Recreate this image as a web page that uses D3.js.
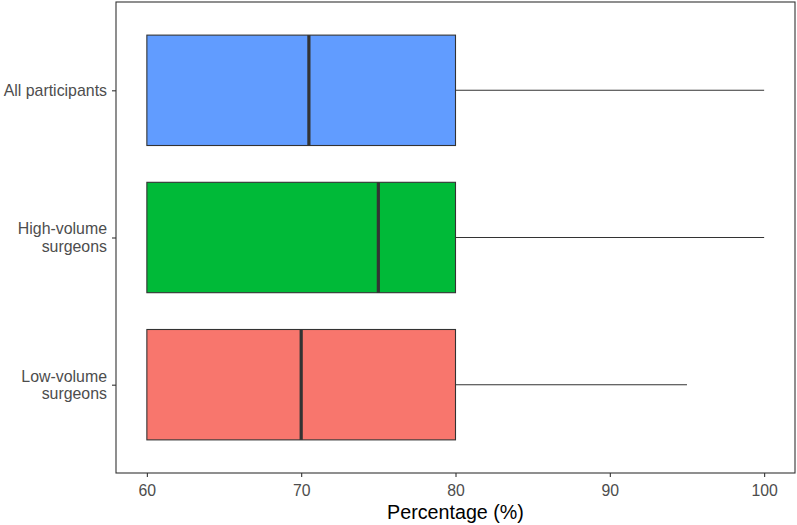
<!DOCTYPE html>
<html>
<head>
<meta charset="utf-8">
<script src="https://cdn.jsdelivr.net/npm/d3@7"></script>
<style>
  html, body { margin: 0; padding: 0; background: #fff; }
  svg { display: block; font-family: "Liberation Sans", Arial, sans-serif; }
</style>
</head>
<body>
<svg id="chart" width="797" height="525"></svg>
<script>
// Data (bottom to top order as in the picture)
const categories = ["Low-volume surgeons", "High-volume surgeons", "All participants"];
const categoryLines = [["Low-volume", "surgeons"], ["High-volume", "surgeons"], ["All participants"]];
const mins    = [60, 60, 60];
const q1s     = [60, 60, 60];
const medians = [70, 75, 70.5];
const q3s     = [80, 80, 80];
const maxs    = [95, 100, 100];
const colors  = ["#F8766D", "#00BA38", "#619CFF"];
const xTicks  = [60, 70, 80, 90, 100];
const xTitle  = "Percentage (%)";

const svg = d3.select("#chart");
const panel = { left: 116, right: 795, top: 2, bottom: 473 };

const x = d3.scaleLinear().domain([58, 102]).range([panel.left, panel.right]);
// discrete positions 1..3 with ggplot expansion 0.6
const yPos = d3.scaleLinear().domain([0.4, 3.6]).range([panel.bottom, panel.top]);
const boxHalf = (yPos(0) - yPos(0.75)) / 2;

const data = categories.map((c, i) => ({
  cat: c, lines: categoryLines[i], min: mins[i], q1: q1s[i], med: medians[i],
  q3: q3s[i], max: maxs[i], color: colors[i], y: yPos(i + 1)
}));

// panel background
svg.append("rect")
  .attr("x", panel.left).attr("y", panel.top)
  .attr("width", panel.right - panel.left).attr("height", panel.bottom - panel.top)
  .attr("fill", "#fff");

const g = svg.append("g");

// whiskers
g.selectAll("line.whiskHi").data(data).enter().append("line")
  .attr("x1", d => x(d.q3)).attr("x2", d => x(d.max))
  .attr("y1", d => d.y).attr("y2", d => d.y)
  .attr("stroke", "#333").attr("stroke-width", 1.1);
g.selectAll("line.whiskLo").data(data.filter(d => d.min < d.q1)).enter().append("line")
  .attr("x1", d => x(d.min)).attr("x2", d => x(d.q1))
  .attr("y1", d => d.y).attr("y2", d => d.y)
  .attr("stroke", "#333").attr("stroke-width", 1.1);

// boxes
g.selectAll("rect.box").data(data).enter().append("rect")
  .attr("x", d => x(d.q1)).attr("width", d => x(d.q3) - x(d.q1))
  .attr("y", d => d.y - boxHalf).attr("height", boxHalf * 2)
  .attr("fill", d => d.color).attr("stroke", "#333").attr("stroke-width", 1.1);

// medians
g.selectAll("line.med").data(data).enter().append("line")
  .attr("x1", d => x(d.med)).attr("x2", d => x(d.med))
  .attr("y1", d => d.y - boxHalf).attr("y2", d => d.y + boxHalf)
  .attr("stroke", "#333").attr("stroke-width", 3.2);

// panel border
svg.append("rect")
  .attr("x", panel.left).attr("y", panel.top)
  .attr("width", panel.right - panel.left).attr("height", panel.bottom - panel.top)
  .attr("fill", "none").attr("stroke", "#333").attr("stroke-width", 1.1);

// x axis
const xAxis = d3.axisBottom(x).tickValues(xTicks).tickSize(4).tickPadding(8).tickFormat(d3.format("d"));
const xg = svg.append("g").attr("transform", `translate(0,${panel.bottom})`).call(xAxis);
xg.select(".domain").remove();
xg.selectAll(".tick line").attr("stroke", "#333").attr("stroke-width", 1.1);
xg.selectAll(".tick text").attr("fill", "#4D4D4D").attr("font-size", "15.8px")
  .attr("font-family", "Liberation Sans, Arial, sans-serif");

// y axis
const yAxis = d3.axisLeft(yPos).tickValues([1, 2, 3]).tickSize(4).tickFormat("");
const yg = svg.append("g").attr("transform", `translate(${panel.left},0)`).call(yAxis);
yg.select(".domain").remove();
yg.selectAll(".tick line").attr("stroke", "#333").attr("stroke-width", 1.1);

// y tick labels (multi-line, right aligned)
const lineH = 17.5;
data.forEach(d => {
  const n = d.lines.length;
  const t = svg.append("text")
    .attr("text-anchor", "end")
    .attr("fill", "#4D4D4D")
    .attr("font-size", "15.9px");
  d.lines.forEach((ln, k) => {
    const base = d.y + 5.7 + (k - (n - 1) / 2) * lineH;
    t.append("tspan").attr("x", panel.left - 9).attr("y", base).text(ln);
  });
});

// x axis title
svg.append("text")
  .attr("x", (panel.left + panel.right) / 2).attr("y", 519)
  .attr("text-anchor", "middle").attr("fill", "#000")
  .attr("font-size", "19.7px").text(xTitle);
</script>
</body>
</html>
